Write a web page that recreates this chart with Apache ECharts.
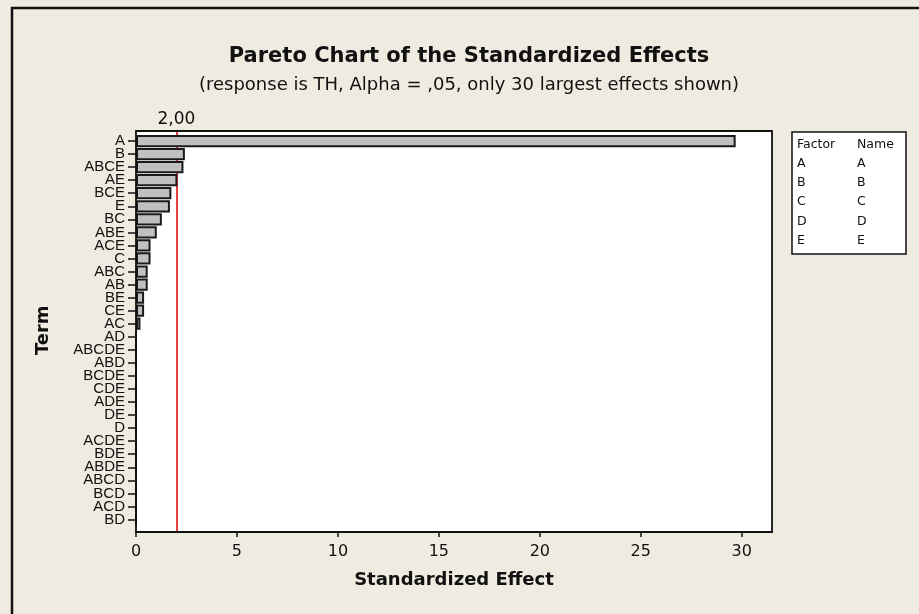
<!DOCTYPE html>
<html>
<head>
<meta charset="utf-8">
<script src="https://cdn.jsdelivr.net/npm/echarts@6/dist/echarts.min.js"></script>
<style>
html,body{margin:0;padding:0;background:#EFEBE1;}
#chart{width:919px;height:614px;}
</style>
</head>
<body>
<div id="chart"></div>
<script>
var terms = ['A','B','ABCE','AE','BCE','E','BC','ABE','ACE','C','ABC','AB','BE','CE','AC','AD','ABCDE','ABD','BCDE','CDE','ADE','DE','D','ACDE','BDE','ABDE','ABCD','BCD','ACD','BD'];
var effects = [29.7,2.42,2.35,2.05,1.75,1.68,1.28,1.03,0.72,0.72,0.58,0.58,0.4,0.4,0.22,0,0,0,0,0,0,0,0,0,0,0,0,0,0,0];
var critical = 2.0;
var criticalLabel = '2,00';
var xTicks = [0,5,10,15,20,25,30];
var factors = ['A','B','C','D','E'];
var factorNames = ['A','B','C','D','E'];

var SANS = 'Liberation Sans, Arial, sans-serif';
var WIDE = 'DejaVu Sans, Verdana, sans-serif';
var chart = echarts.init(document.getElementById('chart'), null, {renderer:'canvas'});

var legendEls = [
  {type:'rect', shape:{x:792,y:132,width:114,height:122}, style:{fill:'#fff',stroke:'#111',lineWidth:1.5}},
  {type:'text', x:797, y:138, style:{text:'Factor', font:'12.5px '+WIDE, fill:'#111'}},
  {type:'text', x:857, y:138, style:{text:'Name', font:'12.5px '+WIDE, fill:'#111'}}
];
factors.forEach(function(f,i){
  legendEls.push({type:'text', x:797, y:157+i*19.3, style:{text:f, font:'12.5px '+WIDE, fill:'#111'}});
  legendEls.push({type:'text', x:857, y:157+i*19.3, style:{text:factorNames[i], font:'12.5px '+WIDE, fill:'#111'}});
});

chart.setOption({
  backgroundColor:'#EFEBE1',
  animation:false,
  title:[
    {text:'Pareto Chart of the Standardized Effects', left:464, top:41, textAlign:'center',
     textStyle:{fontFamily:WIDE, fontSize:21, fontWeight:'bold', color:'#111'}},
    {text:'(response is TH, Alpha = ,05, only 30 largest effects shown)', left:464, top:71, textAlign:'center',
     textStyle:{fontFamily:WIDE, fontSize:18, fontWeight:'normal', color:'#111'}}
  ],
  grid:[
    {left:136, top:134.5, width:636, height:391.5, show:false, containLabel:false},
    {left:136, top:131, width:636, height:401, show:false, containLabel:false}
  ],
  xAxis:[{
    type:'value', min:0, max:31.5, interval:5, offset:6, gridIndex:0,
    name:'Standardized Effect', nameLocation:'middle', nameGap:39,
    nameTextStyle:{fontFamily:WIDE, fontSize:18, fontWeight:'bold', color:'#111'},
    axisLine:{show:true, lineStyle:{color:'#111', width:1.5}},
    axisTick:{show:true, length:5, customValues:xTicks, lineStyle:{color:'#111', width:1.5}},
    axisLabel:{fontFamily:WIDE, fontSize:16, color:'#111', margin:12, customValues:xTicks},
    splitLine:{show:false}
  },{
    type:'value', min:0, max:31.5, gridIndex:1, show:false
  }],
  yAxis:[{
    type:'category', data:terms, inverse:true, gridIndex:0,
    name:'Term', nameLocation:'middle', nameGap:84, nameRotate:90,
    nameTextStyle:{fontFamily:WIDE, fontSize:18, fontWeight:'bold', color:'#111'},
    axisLine:{show:false},
    axisTick:{show:true, length:8, alignWithLabel:true, lineStyle:{color:'#111', width:1.5}},
    axisLabel:{interval:0, fontFamily:SANS, fontSize:15, color:'#111', margin:11},
    splitLine:{show:false}
  },{
    type:'value', min:0, max:1, gridIndex:1, show:false
  }],
  series:[{
    type:'bar', data:effects, barCategoryGap:'6%', xAxisIndex:0, yAxisIndex:0, z:3,
    itemStyle:{color:'#C0C0C0', borderColor:'#1a1a1a', borderWidth:2}
  },{
    type:'line', xAxisIndex:1, yAxisIndex:1, z:1, data:[[critical,0]], showSymbol:false, symbol:'none',
    markLine:{
      silent:true, symbol:'none', z:1,
      lineStyle:{color:'#E00000', width:1.5, type:'solid'},
      label:{show:true, position:'end', formatter:criticalLabel, fontFamily:WIDE, fontSize:17, color:'#111', distance:3},
      data:[{xAxis:critical}]
    }
  }],
  graphic:[
    {type:'rect', z:-10, shape:{x:136,y:131,width:636,height:401}, style:{fill:'#fff',stroke:'none'}},
    {type:'rect', z:100, shape:{x:136,y:131,width:636,height:401}, style:{fill:'none',stroke:'#111',lineWidth:1.8}},
    {type:'rect', z:100, shape:{x:12,y:8,width:1000,height:1000}, style:{fill:'none',stroke:'#111',lineWidth:2.5}},
    {type:'group', z:100, children:legendEls}
  ]
});
</script>
</body>
</html>
